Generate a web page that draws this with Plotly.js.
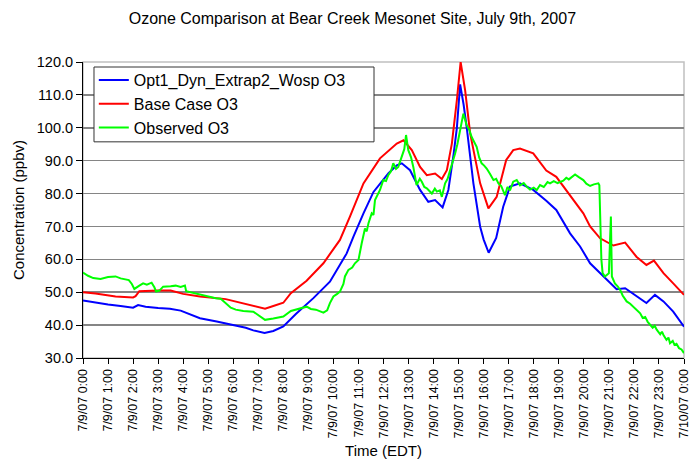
<!DOCTYPE html>
<html>
<head>
<meta charset="utf-8">
<script src="https://cdn.plot.ly/plotly-3.0.1.min.js"></script>
<style>html,body{margin:0;padding:0;background:#fff;}#chart{width:695px;height:464px;}</style>
</head>
<body>
<div id="chart"></div>
<script>
// Hours since 7/9/07 0:00 (EDT)
const tickHours = [0,1,2,3,4,5,6,7,8,9,10,11,12,13,14,15,16,17,18,19,20,21,22,23,24];
const tickLabels = ["7/9/07 0:00","7/9/07 1:00","7/9/07 2:00","7/9/07 3:00","7/9/07 4:00","7/9/07 5:00",
  "7/9/07 6:00","7/9/07 7:00","7/9/07 8:00","7/9/07 9:00","7/9/07 10:00","7/9/07 11:00","7/9/07 12:00",
  "7/9/07 13:00","7/9/07 14:00","7/9/07 15:00","7/9/07 16:00","7/9/07 17:00","7/9/07 18:00","7/9/07 19:00",
  "7/9/07 20:00","7/9/07 21:00","7/9/07 22:00","7/9/07 23:00","7/10/07 0:00"];

const optTime = [0,0.5,1.0,1.5,2.0,2.2,2.5,3.0,3.47,3.9,4.3,4.67,5.34,6.0,6.5,6.8,7.25,7.6,8.0,8.5,9.2,9.86,
  10.53,10.8,11.2,11.6,11.86,12.2,12.53,12.73,13.06,13.46,13.79,14.06,14.36,14.59,14.8,14.93,15.06,15.2,15.32,
  15.59,15.86,16.0,16.2,16.5,16.78,17.05,17.45,17.98,18.5,18.9,19.45,19.85,20.25,20.78,21.31,21.65,22.1,22.5,22.84,
  23.18,23.57,24.0];
const optO3 = [47.5,46.8,46.3,45.8,45.3,46.1,45.6,45.2,45.0,44.4,43.2,42.1,41.1,40.0,39.2,38.4,37.6,38.2,39.6,43.4,
  48.2,53.2,61.8,66.9,74.0,80.5,83.1,86.2,88.6,89.2,87.1,81.1,77.5,78.0,75.8,81.1,92.0,100.0,113.2,107.0,100.3,
  83.1,69.9,66.0,62.0,66.5,76.0,82.1,83.1,81.1,77.8,75.0,67.9,63.9,58.8,54.8,50.9,51.2,48.7,46.7,49.2,47.2,44.1,39.5];

const baseTime = [0,0.5,1.3,2.0,2.1,2.25,3.0,3.5,4.0,4.67,5.7,6.5,7.27,7.6,8.0,8.3,8.93,9.6,9.86,10.26,10.66,11.2,
  11.86,12.53,12.8,13.13,13.46,13.73,14.06,14.33,14.53,14.73,14.93,15.08,15.26,15.46,15.86,16.19,16.52,16.9,17.18,
  17.45,17.98,18.5,18.9,19.45,19.98,20.25,20.65,21.18,21.65,22.1,22.5,22.8,23.18,23.57,24.0];
const baseO3 = [50.0,49.6,48.7,48.4,48.8,50.3,50.5,50.5,49.5,48.7,47.9,46.4,45.0,45.8,46.8,49.7,53.5,58.8,61.5,65.9,
  73.0,83.1,90.7,95.2,96.2,93.2,88.1,85.6,86.1,84.4,87.1,95.2,108.4,120.0,111.4,98.3,83.1,75.5,79.0,90.2,93.2,
  93.7,92.2,87.0,85.1,79.5,74.0,70.0,66.4,64.2,65.1,60.8,58.3,59.6,55.8,52.7,49.2];

const obsTime = [0,0.2,0.41,0.7,1.0,1.3,1.5,1.83,1.95,2.05,2.25,2.4,2.55,2.74,2.85,2.92,3.05,3.2,3.5,3.7,3.9,4.07,
  4.12,4.4,4.67,5.0,5.3,5.5,5.7,5.9,6.1,6.4,6.8,7.0,7.27,7.6,8.0,8.3,8.6,8.93,9.1,9.3,9.6,9.75,9.86,10.0,10.15,
  10.26,10.4,10.46,10.6,10.75,10.86,11.0,11.13,11.2,11.26,11.33,11.4,11.53,11.6,11.66,11.76,11.86,11.99,12.1,
  12.19,12.3,12.39,12.5,12.59,12.73,12.83,12.9,12.99,13.1,13.19,13.32,13.45,13.53,13.63,13.73,13.85,13.93,14.05,
  14.13,14.25,14.33,14.46,14.56,14.66,14.76,14.86,14.95,15.06,15.19,15.32,15.42,15.52,15.62,15.72,15.82,15.92,
  16.02,16.12,16.25,16.39,16.5,16.59,16.7,16.85,16.95,17.05,17.18,17.32,17.45,17.6,17.72,17.85,18.0,18.12,18.25,
  18.4,18.55,18.65,18.8,18.95,19.18,19.3,19.4,19.55,19.65,19.8,19.98,20.1,20.25,20.4,20.58,20.62,20.7,20.75,20.84,
  21.0,21.05,21.08,21.12,21.24,21.35,21.45,21.55,21.71,21.85,21.98,22.1,22.25,22.35,22.45,22.55,22.65,22.75,22.83,
  22.91,23.05,23.12,23.18,23.3,23.38,23.44,23.55,23.62,23.7,23.8,23.9,24.0];
const obsO3 = [56.0,55.0,54.3,54.0,54.6,54.8,54.2,53.7,52.5,51.0,52.0,52.7,52.3,52.9,51.5,50.2,50.5,51.7,51.8,52.0,
  51.6,52.0,50.3,49.8,49.2,48.6,48.2,48.0,46.7,45.3,44.7,44.3,44.1,43.0,41.6,42.0,42.6,44.3,45.0,45.6,44.9,44.7,
  43.8,44.5,46.7,48.7,49.5,50.2,52.5,54.8,56.8,57.5,58.8,59.8,64.9,68.0,69.4,68.5,71.0,74.0,73.5,78.0,79.5,81.1,
  84.1,83.8,85.6,86.8,89.2,87.5,88.1,91.2,93.5,97.8,93.2,91.0,88.1,82.6,84.5,83.6,82.0,81.6,80.8,80.0,81.5,80.6,
  81.0,79.0,83.1,84.5,87.1,89.5,92.2,95.0,99.3,104.3,100.8,99.5,97.2,95.5,94.2,91.0,89.2,88.5,87.6,86.0,84.1,84.5,
  83.1,82.3,79.5,82.0,81.0,83.6,84.1,82.5,83.2,82.1,81.2,81.8,81.1,82.6,82.0,83.5,83.1,83.8,83.2,83.9,84.8,84.3,
  85.2,85.8,85.0,84.1,83.0,82.3,82.8,83.1,82.5,60.0,55.8,54.8,55.8,65.0,73.0,54.8,52.7,51.8,50.7,49.0,47.2,46.5,
  45.6,44.5,43.6,42.2,42.5,41.0,40.1,39.2,39.8,38.6,37.2,38.0,37.0,35.5,36.2,34.5,35.2,34.0,34.3,33.0,32.6,31.5];

const seriesNames = ["Opt1_Dyn_Extrap2_Wosp O3","Base Case O3","Observed O3"];
const seriesColors = ["#0000FF","#FF0000","#00FF00"];

const FONT = "Liberation Sans, Arial, sans-serif";

const traces = [
  {x: optTime, y: optO3, name: seriesNames[0], type: "scatter", mode: "lines", line: {color: seriesColors[0], width: 2}},
  {x: baseTime, y: baseO3, name: seriesNames[1], type: "scatter", mode: "lines", line: {color: seriesColors[1], width: 2}},
  {x: obsTime, y: obsO3, name: seriesNames[2], type: "scatter", mode: "lines", line: {color: seriesColors[2], width: 2}}
];

const layout = {
  width: 695, height: 464,
  margin: {l: 83, r: 11, t: 62, b: 106, pad: 0},
  paper_bgcolor: "#fff", plot_bgcolor: "#fff",
  font: {family: FONT, color: "#000"},
  title: {text: "Ozone Comparison at Bear Creek Mesonet Site, July 9th, 2007",
    font: {size: 16, family: FONT, color: "#000"}, xref: "container", x: 0.507, xanchor: "center",
    yref: "container", y: 0.961, yanchor: "middle"},
  showlegend: true,
  legend: {x: 0.018, y: 0.9965, xanchor: "left", yanchor: "top", bgcolor: "rgba(0,0,0,0)",
    borderwidth: 0, font: {size: 16, family: FONT, color: "#000"},
    itemwidth: 30, tracegroupgap: 0},
  xaxis: {range: [0, 24], tickmode: "array", tickvals: tickHours, ticktext: tickLabels, tickangle: -90,
    ticks: "outside", ticklen: 5, tickcolor: "#000", showline: true, linecolor: "#000", linewidth: 1,
    showgrid: false, zeroline: false, tickfont: {size: 12.5, family: FONT, color: "#000"},
    title: {text: "Time (EDT)", font: {size: 15, family: FONT, color: "#000"}, standoff: 7}},
  yaxis: {range: [30, 120], dtick: 10, tick0: 30, tickformat: ".1f", ticks: "outside", ticklen: 6,
    tickcolor: "#000", showline: true, linecolor: "#000", linewidth: 1, showgrid: true,
    gridcolor: "#858585", gridwidth: 1.5, zeroline: false, tickfont: {size: 14.5, family: FONT, color: "#000"},
    title: {text: "Concentration (ppbv)", font: {size: 15, family: FONT, color: "#000"}, standoff: 8}},
  shapes: [
    {type: "rect", xref: "paper", yref: "paper", x0: 0, x1: 1, y0: 0, y1: 1,
      line: {color: "#c0c0c0", width: 1.5}, layer: "below"},
    // legend frame
    {type: "rect", xref: "paper", yref: "paper", x0: 0.0183, x1: 0.4842, y0: 0.7303, y1: 0.9831,
      line: {color: "#333", width: 1}, fillcolor: "#fff", layer: "above"}
  ]
};

Plotly.newPlot("chart", traces, layout, {staticPlot: true, displayModeBar: false});
</script>
</body>
</html>
